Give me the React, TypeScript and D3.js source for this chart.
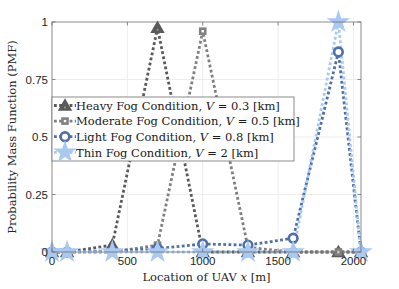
import { useEffect } from 'react';
import * as d3 from 'd3';

const locations = [0, 100, 400, 700, 1000, 1300, 1600, 1900, 2050];
const heavyPmf = [0, 0, 0.03, 0.975, 0, 0, 0, 0, 0];
const moderatePmf = [0, 0, 0, 0.03, 0.96, 0.02, 0, 0, 0];
const lightPmf = [0, 0, 0.005, 0.015, 0.035, 0.03, 0.06, 0.87, 0];
const thinPmf = [0, 0, 0, 0, 0, 0, 0, 1, 0];

const xTicks = [0, 500, 1000, 1500, 2000];
const yTicks = [0, 0.25, 0.5, 0.75, 1];
const yTickLabels = ['0', '0.25', '0.5', '0.75', '1'];

const seriesNames = ['Heavy Fog Condition, ', 'Moderate Fog Condition, ', 'Light Fog Condition, ', 'Thin Fog Condition, '];
const visibilities = ['0.3', '0.5', '0.8', '2'];

const W = 399;
const H = 289;
const M = { top: 22, right: 38, bottom: 37, left: 52 };

const SERIF = '"DejaVu Serif", serif';
const SANS = '"Liberation Sans", Arial, sans-serif';

type Marker = 'triangle' | 'square' | 'circle' | 'star';

const styles: { color: string; marker: Marker }[] = [
  { color: '#5a5a5a', marker: 'triangle' },
  { color: '#808080', marker: 'square' },
  { color: '#4e6fa8', marker: 'circle' },
  { color: '#a9c9f1', marker: 'star' },
];

function MarkerShape({ kind, color, x, y }: { kind: Marker; color: string; x: number; y: number }) {
  if (kind === 'triangle') {
    const p = d3.symbol(d3.symbolTriangle, 90)()!;
    return (
      <g transform={`translate(${x},${y + 1})`}>
        <path d={p} fill={color} />
        <circle r={1} fill="#9a9a9a" cy={1} />
      </g>
    );
  }
  if (kind === 'square') {
    return (
      <g transform={`translate(${x},${y})`}>
        <rect x={-3.8} y={-3.8} width={7.6} height={7.6} fill={color} />
        <rect x={-1.2} y={-1.2} width={2.4} height={2.4} fill="#ffffff" />
      </g>
    );
  }
  if (kind === 'circle') {
    return <circle cx={x} cy={y} r={4.3} fill="#ffffff" stroke={color} strokeWidth={2.6} />;
  }
  const s = d3.symbol(d3.symbolStar, 170)()!;
  return <path d={s} transform={`translate(${x},${y})`} fill={color} />;
}

export default function App() {
  useEffect(() => {
    document.body.style.margin = '0';
  }, []);

  const innerW = W - M.left - M.right;
  const innerH = H - M.top - M.bottom;
  const x = d3.scaleLinear().domain([0, 2050]).range([M.left, M.left + innerW]);
  const y = d3.scaleLinear().domain([0, 1]).range([M.top + innerH, M.top]);

  const all = [heavyPmf, moderatePmf, lightPmf, thinPmf];
  const line = d3.line<number>()
    .x((_, i) => x(locations[i]))
    .y((d) => y(d));

  const x0 = M.left;
  const x1 = M.left + innerW;
  const y0 = M.top + innerH;
  const y1 = M.top;

  const lg = { x: 52, y: 97, w: 242, h: 64, row: 15.6 };
  const serif = { fontFamily: SERIF };
  const sans = { fontFamily: SANS };

  return (
    <svg width={W} height={H} style={{ display: 'block', background: '#ffffff' }}>
      {/* grid */}
      {xTicks.filter((t) => t > 0).map((t) => (
        <line key={`gx${t}`} x1={x(t)} x2={x(t)} y1={y0} y2={y1} stroke="#e8e8e8" strokeWidth={0.8} />
      ))}
      {yTicks.filter((t) => t > 0 && t < 1).map((t) => (
        <line key={`gy${t}`} x1={x0} x2={x1} y1={y(t)} y2={y(t)} stroke="#e8e8e8" strokeWidth={0.8} />
      ))}

      {/* series */}
      {all.map((vals, si) => (
        <path
          key={`l${si}`}
          d={line(vals)!}
          fill="none"
          stroke={styles[si].color}
          strokeWidth={2.8}
          strokeDasharray="2.8 2.4"
        />
      ))}
      {all.map((vals, si) => (
        <g key={`m${si}`}>
          {vals.map((v, i) => (
            <MarkerShape key={i} kind={styles[si].marker} color={styles[si].color} x={x(locations[i])} y={y(v)} />
          ))}
        </g>
      ))}

      {/* axes box and ticks */}
      <rect x={x0} y={y1} width={innerW} height={innerH} fill="none" stroke="#6e6e6e" strokeWidth={0.8} />
      {xTicks.map((t) => (
        <g key={`tx${t}`}>
          <line x1={x(t)} x2={x(t)} y1={y0} y2={y0 - 3.5} stroke="#6e6e6e" strokeWidth={0.8} />
          <line x1={x(t)} x2={x(t)} y1={y1} y2={y1 + 3.5} stroke="#6e6e6e" strokeWidth={0.8} />
          <text x={x(t)} y={y0 + 13} textAnchor="middle" style={sans} fontSize={11.5} fill="#262626">{t}</text>
        </g>
      ))}
      {yTicks.map((t, i) => (
        <g key={`ty${t}`}>
          <line x1={x0} x2={x0 + 3.5} y1={y(t)} y2={y(t)} stroke="#6e6e6e" strokeWidth={0.8} />
          <line x1={x1} x2={x1 - 3.5} y1={y(t)} y2={y(t)} stroke="#6e6e6e" strokeWidth={0.8} />
          <text x={x0 - 4} y={y(t) + 4} textAnchor="end" style={sans} fontSize={11.5} fill="#262626">{yTickLabels[i]}</text>
        </g>
      ))}

      {/* axis labels */}
      <text x={(x0 + x1) / 2} y={H - 8} textAnchor="middle" style={serif} fontSize={11.5} fill="#262626">
        Location of UAV <tspan fontStyle="italic">x</tspan> [m]
      </text>
      <text
        transform={`translate(16,${(y0 + y1) / 2}) rotate(-90)`}
        textAnchor="middle"
        style={serif}
        fontSize={11.5}
        fill="#262626"
      >
        Probability Mass Function (PMF)
      </text>

      {/* legend */}
      <rect x={lg.x} y={lg.y} width={lg.w} height={lg.h} fill="#ffffff" stroke="#6e6e6e" strokeWidth={0.8} />
      {styles.map((s, i) => {
        const cy = lg.y + 8.5 + i * lg.row;
        return (
          <g key={`lg${i}`}>
            <line x1={lg.x + 2} x2={lg.x + 24} y1={cy} y2={cy} stroke={s.color} strokeWidth={2.8} strokeDasharray="2.8 2.4" />
            <MarkerShape kind={s.marker} color={s.color} x={lg.x + 13} y={cy} />
            <text x={lg.x + 24} y={cy + 4.2} style={serif} fontSize={11.5} fill="#1a1a1a">
              {seriesNames[i]}<tspan fontStyle="italic">V</tspan> = {visibilities[i]} [km]
            </text>
          </g>
        );
      })}
    </svg>
  );
}
